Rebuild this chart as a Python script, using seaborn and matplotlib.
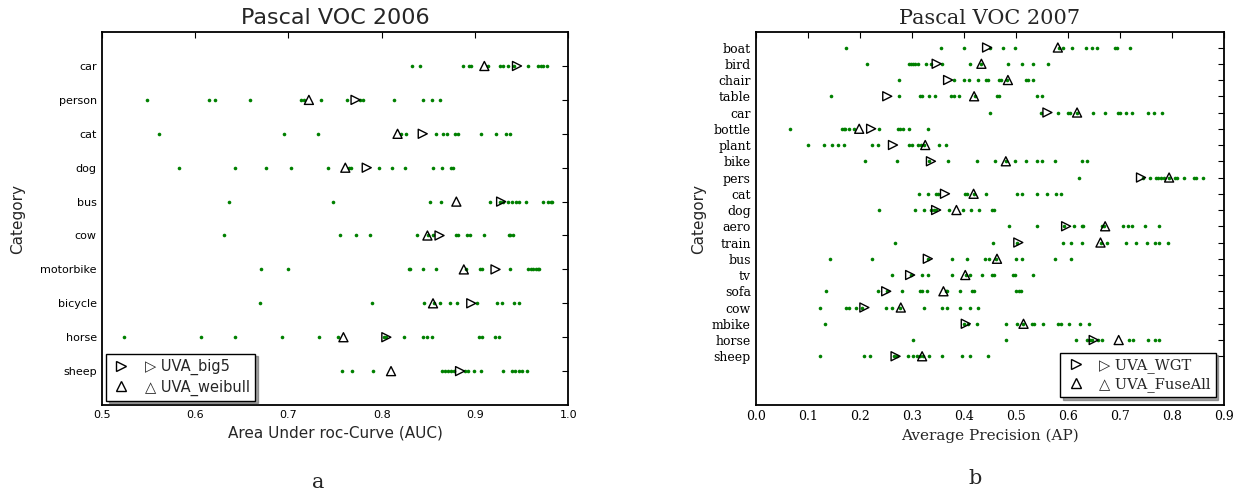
import matplotlib
matplotlib.use("Agg")
import matplotlib.pyplot as plt
from matplotlib.lines import Line2D
import seaborn as sns
import pandas as pd

# ---- Pascal VOC 2006 (AUC) ----
cats06 = ['car', 'person', 'cat', 'dog', 'bus', 'cow', 'motorbike', 'bicycle', 'horse', 'sheep']
v06_car = [0.832, 0.841, 0.887, 0.894, 0.896, 0.914, 0.927, 0.930, 0.935, 0.942, 0.957, 0.967, 0.971, 0.973, 0.977]
v06_person = [0.549, 0.615, 0.621, 0.659, 0.714, 0.717, 0.735, 0.763, 0.777, 0.780, 0.813, 0.844, 0.854, 0.862]
v06_cat = [0.561, 0.695, 0.732, 0.821, 0.826, 0.858, 0.866, 0.870, 0.879, 0.882, 0.906, 0.922, 0.933, 0.937]
v06_dog = [0.583, 0.643, 0.676, 0.703, 0.742, 0.765, 0.767, 0.797, 0.811, 0.825, 0.855, 0.865, 0.874, 0.876]
v06_bus = [0.636, 0.748, 0.852, 0.864, 0.916, 0.927, 0.930, 0.935, 0.940, 0.944, 0.947, 0.955, 0.973, 0.978, 0.981, 0.983]
v06_cow = [0.631, 0.755, 0.773, 0.788, 0.838, 0.850, 0.855, 0.880, 0.882, 0.891, 0.895, 0.910, 0.936, 0.938, 0.941]
v06_motorbike = [0.671, 0.700, 0.829, 0.830, 0.844, 0.858, 0.890, 0.905, 0.907, 0.938, 0.957, 0.960, 0.962, 0.965, 0.967, 0.969]
v06_bicycle = [0.670, 0.790, 0.845, 0.856, 0.863, 0.873, 0.881, 0.902, 0.924, 0.929, 0.942, 0.947]
v06_horse = [0.524, 0.606, 0.643, 0.693, 0.733, 0.753, 0.802, 0.805, 0.824, 0.844, 0.849, 0.854, 0.904, 0.908, 0.921, 0.926]
v06_sheep = [0.758, 0.768, 0.791, 0.865, 0.868, 0.871, 0.874, 0.877, 0.889, 0.893, 0.899, 0.906, 0.930, 0.940, 0.943, 0.947, 0.950, 0.956]
uva_big5 = [0.945, 0.772, 0.844, 0.784, 0.928, 0.862, 0.922, 0.896, 0.805, 0.884]
uva_weibull = [0.910, 0.722, 0.817, 0.761, 0.880, 0.849, 0.888, 0.855, 0.759, 0.810]

# ---- Pascal VOC 2007 (AP) ----
cats07 = ['boat', 'bird', 'chair', 'table', 'car', 'bottle', 'plant', 'bike', 'pers', 'cat',
          'dog', 'aero', 'train', 'bus', 'tv', 'sofa', 'cow', 'mbike', 'horse', 'sheep']
v07_boat = [0.173, 0.357, 0.400, 0.451, 0.476, 0.498, 0.583, 0.591, 0.608, 0.635, 0.646, 0.656, 0.690, 0.695, 0.720]
v07_bird = [0.214, 0.294, 0.298, 0.303, 0.306, 0.313, 0.328, 0.338, 0.358, 0.412, 0.434, 0.486, 0.513, 0.533, 0.562]
v07_chair = [0.275, 0.381, 0.400, 0.411, 0.428, 0.443, 0.446, 0.467, 0.472, 0.484, 0.519, 0.523, 0.533]
v07_table = [0.144, 0.276, 0.316, 0.319, 0.333, 0.345, 0.376, 0.382, 0.390, 0.421, 0.464, 0.468, 0.540, 0.550]
v07_car = [0.451, 0.549, 0.581, 0.601, 0.605, 0.617, 0.649, 0.672, 0.696, 0.700, 0.712, 0.723, 0.755, 0.765, 0.781]
v07_bottle = [0.065, 0.165, 0.169, 0.172, 0.179, 0.189, 0.237, 0.273, 0.278, 0.284, 0.294, 0.332]
v07_plant = [0.101, 0.132, 0.146, 0.158, 0.170, 0.224, 0.236, 0.295, 0.300, 0.313, 0.317, 0.324, 0.353, 0.365]
v07_bike = [0.210, 0.272, 0.333, 0.369, 0.425, 0.461, 0.481, 0.498, 0.519, 0.540, 0.550, 0.576, 0.627, 0.637]
v07_pers = [0.621, 0.744, 0.758, 0.770, 0.774, 0.779, 0.785, 0.794, 0.806, 0.810, 0.823, 0.842, 0.847, 0.860]
v07_cat = [0.314, 0.331, 0.346, 0.351, 0.403, 0.407, 0.419, 0.443, 0.503, 0.512, 0.540, 0.560, 0.578, 0.588]
v07_dog = [0.238, 0.306, 0.324, 0.338, 0.342, 0.346, 0.372, 0.399, 0.414, 0.429, 0.454, 0.459]
v07_aero = [0.487, 0.540, 0.593, 0.612, 0.627, 0.630, 0.665, 0.669, 0.706, 0.715, 0.723, 0.749, 0.776]
v07_train = [0.268, 0.456, 0.502, 0.590, 0.606, 0.628, 0.664, 0.675, 0.712, 0.731, 0.752, 0.767, 0.776, 0.793]
v07_bus = [0.143, 0.224, 0.332, 0.377, 0.407, 0.441, 0.449, 0.463, 0.500, 0.512, 0.576, 0.606]
v07_tv = [0.263, 0.299, 0.319, 0.332, 0.377, 0.404, 0.412, 0.435, 0.455, 0.458, 0.494, 0.499, 0.533]
v07_sofa = [0.135, 0.236, 0.253, 0.281, 0.316, 0.320, 0.329, 0.366, 0.367, 0.393, 0.415, 0.419, 0.501, 0.506, 0.510]
v07_cow = [0.124, 0.173, 0.179, 0.192, 0.204, 0.250, 0.262, 0.278, 0.324, 0.359, 0.367, 0.392, 0.412, 0.428]
v07_mbike = [0.134, 0.401, 0.409, 0.425, 0.481, 0.502, 0.514, 0.531, 0.535, 0.553, 0.582, 0.587, 0.603, 0.624, 0.641]
v07_horse = [0.302, 0.481, 0.616, 0.637, 0.643, 0.647, 0.659, 0.665, 0.717, 0.726, 0.755, 0.767, 0.776]
v07_sheep = [0.124, 0.209, 0.219, 0.265, 0.272, 0.292, 0.303, 0.310, 0.316, 0.321, 0.334, 0.359, 0.397, 0.413, 0.447]
uva_wgt = [0.445, 0.348, 0.370, 0.253, 0.561, 0.222, 0.264, 0.337, 0.741, 0.364,
           0.347, 0.597, 0.505, 0.331, 0.297, 0.251, 0.209, 0.404, 0.650, 0.269]
uva_fuseall = [0.581, 0.434, 0.485, 0.420, 0.618, 0.199, 0.326, 0.481, 0.795, 0.419,
               0.386, 0.672, 0.663, 0.464, 0.403, 0.361, 0.279, 0.515, 0.698, 0.320]

rows06 = [v06_car, v06_person, v06_cat, v06_dog, v06_bus, v06_cow, v06_motorbike,
          v06_bicycle, v06_horse, v06_sheep]
rows07 = [v07_boat, v07_bird, v07_chair, v07_table, v07_car, v07_bottle, v07_plant, v07_bike,
          v07_pers, v07_cat, v07_dog, v07_aero, v07_train, v07_bus, v07_tv, v07_sofa,
          v07_cow, v07_mbike, v07_horse, v07_sheep]


def long_df(cats, rows):
    recs = [(c, v) for c, r in zip(cats, rows) for v in r]
    return pd.DataFrame(recs, columns=['cat', 'score'])


sns.set_style('white')
plt.rcParams['font.family'] = ['DejaVu Sans']

fig = plt.figure(figsize=(12.45, 4.92), dpi=100)
ax1 = fig.add_axes([0.0817, 0.1768, 0.3748, 0.758])
ax2 = fig.add_axes([0.607, 0.1768, 0.3759, 0.758])


def draw_panel(ax, cats, rows, m1, m2, font, tfs):
    df = long_df(cats, rows)
    sns.stripplot(data=df, x='score', y='cat', order=cats, jitter=False, color='green',
                  size=2.6, linewidth=0, ax=ax)
    for vals, mk in [(m1, '>'), (m2, '^')]:
        n0 = len(ax.collections)
        sns.stripplot(x=vals, y=cats, order=cats, jitter=False, marker=mk, color='black',
                      edgecolor='black', linewidth=1, size=6.5, ax=ax)
        # hollow markers, so the green dots stay visible inside
        for coll in ax.collections[n0:]:
            coll.set_facecolor('none')
            coll.set_edgecolor('black')
            coll.set_zorder(3)
    for s in ax.spines.values():
        s.set_visible(True)
        s.set_color('black')
        s.set_linewidth(1.3)
    ax.tick_params(axis='both', direction='in', length=4, width=0.8, top=True, right=True,
                   colors='black')
    for lab in ax.get_xticklabels() + ax.get_yticklabels():
        lab.set_family(font)
        lab.set_fontsize(tfs)


draw_panel(ax1, cats06, rows06, uva_big5, uva_weibull, 'DejaVu Sans', 8)
ax1.set_xlim(0.5, 1.0)
ax1.set_ylim(10, -1)
ax1.set_xticks([0.5, 0.6, 0.7, 0.8, 0.9, 1.0])
ax1.set_xticklabels(['0.5', '0.6', '0.7', '0.8', '0.9', '1.0'], fontsize=8)
ax1.set_title('Pascal VOC 2006', fontsize=16)
ax1.set_xlabel('Area Under roc-Curve (AUC)', fontsize=11)
ax1.set_ylabel('Category', fontsize=11, labelpad=11)

draw_panel(ax2, cats07, rows07, uva_wgt, uva_fuseall, 'DejaVu Serif', 9)
ax2.set_xlim(0.0, 0.9)
ax2.set_ylim(22, -0.95)
ax2.set_xticks([0.0, 0.1, 0.2, 0.3, 0.4, 0.5, 0.6, 0.7, 0.8, 0.9])
ax2.set_xticklabels(['0.0', '0.1', '0.2', '0.3', '0.4', '0.5', '0.6', '0.7', '0.8', '0.9'],
                    family='DejaVu Serif', fontsize=9)
ax2.set_title('Pascal VOC 2007', fontsize=15, family='DejaVu Serif')
ax2.set_xlabel('Average Precision (AP)', fontsize=11, family='DejaVu Serif')
ax2.set_ylabel('Category', fontsize=11)


def legend(ax, labels, loc, font, pad):
    handles = [Line2D([], [], marker='>', ls='none', mfc='none', mec='black', ms=6.5, mew=1),
               Line2D([], [], marker='^', ls='none', mfc='none', mec='black', ms=6.5, mew=1)]
    leg = ax.legend(handles, labels, loc=loc, numpoints=1, fancybox=False, shadow=True,
                    framealpha=1, edgecolor='black', borderaxespad=pad,
                    handlelength=1.4, handletextpad=0.9, labelspacing=0.3,
                    borderpad=0.35,
                    prop={'family': [font, 'DejaVu Sans'], 'size': 10.5})
    leg.get_frame().set_linewidth(1.0)


legend(ax1, ['▷ UVA_big5', '△ UVA_weibull'], 'lower left', 'DejaVu Sans', 0.3)
legend(ax2, ['▷ UVA_WGT', '△ UVA_FuseAll'], 'lower right', 'DejaVu Serif', 0.55)

fig.text(0.2554, 0.02, 'a', ha='center', va='center', fontsize=15, family='DejaVu Serif')
fig.text(0.783, 0.028, 'b', ha='center', va='center', fontsize=15, family='DejaVu Serif')

fig.savefig('out.png', dpi=100)
